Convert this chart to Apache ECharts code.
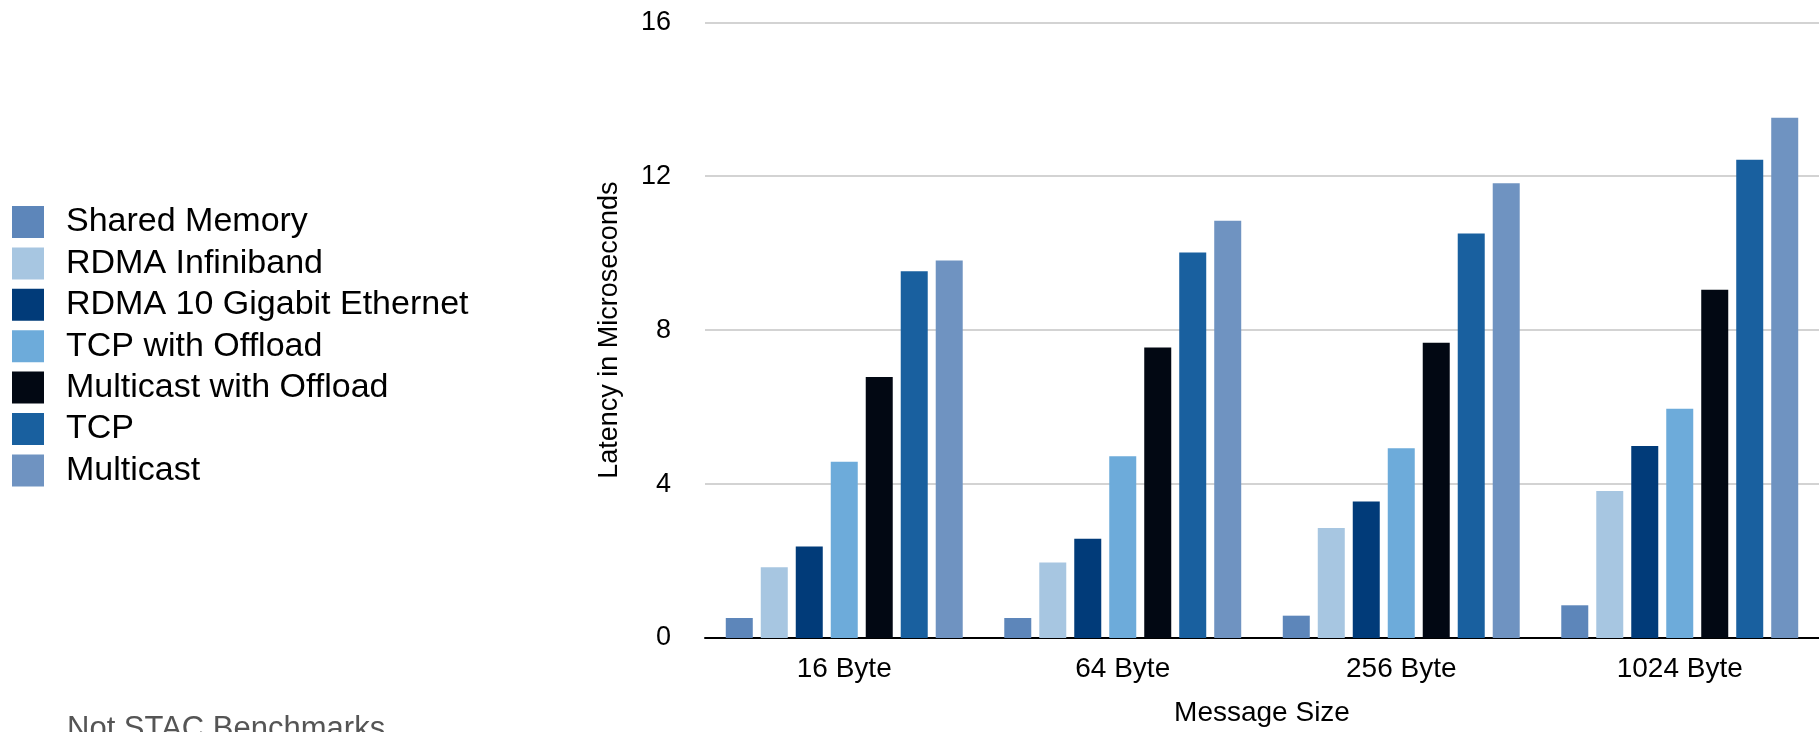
<!DOCTYPE html>
<html>
<head>
<meta charset="utf-8">
<script src="https://cdn.jsdelivr.net/npm/echarts@6/dist/echarts.min.js"></script>
<style>
html,body{margin:0;padding:0;background:#fff;}
#chart{width:1819px;height:732px;}
</style>
</head>
<body>
<div id="chart"></div>
<script>
const categories = ['16 Byte', '64 Byte', '256 Byte', '1024 Byte'];
const seriesNames = ['Shared Memory', 'RDMA Infiniband', 'RDMA 10 Gigabit Ethernet', 'TCP with Offload', 'Multicast with Offload', 'TCP', 'Multicast'];
const sharedMemory = [0.52, 0.52, 0.58, 0.85];
const rdmaInfiniband = [1.84, 1.96, 2.86, 3.82];
const rdma10GbE = [2.38, 2.58, 3.55, 4.99];
const tcpOffload = [4.58, 4.72, 4.93, 5.96];
const multicastOffload = [6.78, 7.55, 7.67, 9.05];
const tcp = [9.53, 10.02, 10.51, 12.43];
const multicast = [9.81, 10.84, 11.82, 13.52];
const yTicks = [0, 4, 8, 12, 16];
const footnote = 'Not STAC Benchmarks';

const colors = ['#5d86ba', '#a7c6e1', '#013b79', '#6dabda', '#020813', '#19609f', '#6f93c1'];
const allData = [sharedMemory, rdmaInfiniband, rdma10GbE, tcpOffload, multicastOffload, tcp, multicast];

const chart = echarts.init(document.getElementById('chart'));
const font = 'Liberation Sans, Arial, Helvetica, sans-serif';
chart.setOption({
  animation: false,
  color: colors,
  textStyle: {fontFamily: font},
  legend: {
    orient: 'vertical',
    left: 12,
    top: 205,
    padding: 0,
    itemWidth: 32,
    itemHeight: 32,
    itemGap: 7.4,
    icon: 'rect',
    selectedMode: false,
    data: seriesNames,
    textStyle: {fontSize: 34, lineHeight: 32, color: '#000', fontFamily: font, padding: [0, 0, 0, 17]}
  },
  grid: {left: 705, top: 22.3, height: 620.4, width: 1117.2, containLabel: false},
  xAxis: {
    type: 'category',
    data: categories,
    name: 'Message Size',
    nameLocation: 'middle',
    nameGap: 61,
    nameTextStyle: {fontSize: 28, color: '#000', fontFamily: font},
    axisTick: {show: false},
    axisLine: {lineStyle: {color: '#000', width: 2}},
    axisLabel: {fontSize: 28, color: '#000', margin: 17, fontFamily: font},
    splitLine: {show: false}
  },
  yAxis: {
    type: 'value',
    min: yTicks[0],
    max: yTicks[yTicks.length - 1],
    interval: 4,
    name: 'Latency in Microseconds',
    nameLocation: 'middle',
    nameGap: 82,
    nameTextStyle: {fontSize: 27, color: '#000', fontFamily: font},
    axisLine: {show: false},
    axisTick: {show: false},
    axisLabel: {fontSize: 27, color: '#000', margin: 34, fontFamily: font},
    splitLine: {lineStyle: {color: '#c4c4c4', width: 1.5}}
  },
  series: seriesNames.map((n, i) => ({
    name: n,
    type: 'bar',
    data: allData[i],
    barWidth: 27,
    barGap: '29.6%',
    itemStyle: {color: colors[i]}
  })),
  graphic: [{
    type: 'text',
    left: 67,
    top: 714,
    style: {text: footnote, fontSize: 31, fill: '#555', fontFamily: font}
  }]
});
</script>
</body>
</html>
